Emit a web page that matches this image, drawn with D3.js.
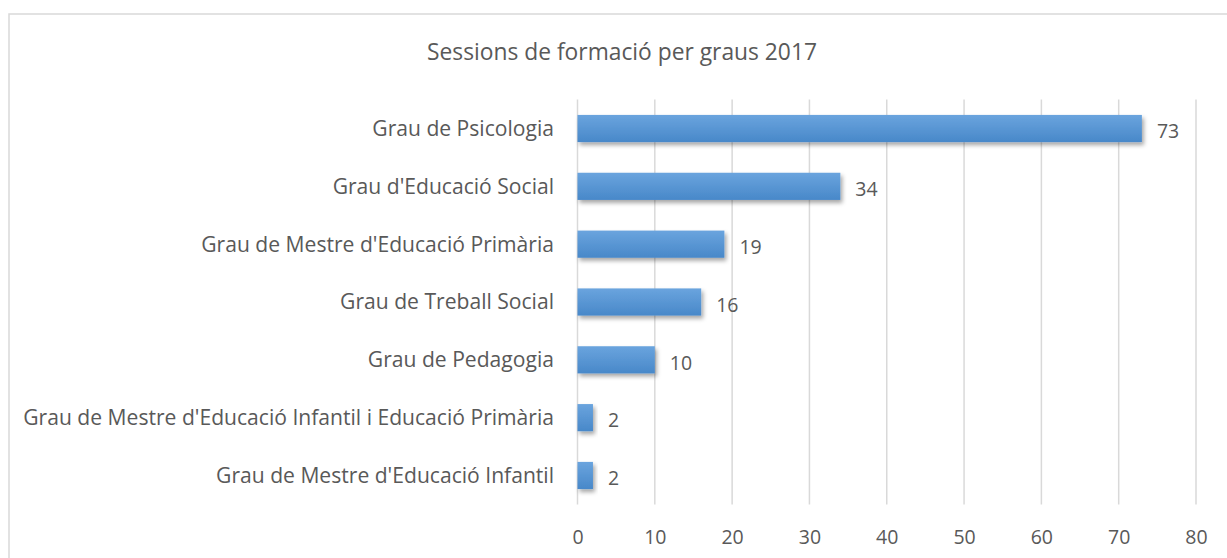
<!DOCTYPE html>
<html>
<head>
<meta charset="utf-8">
<script src="https://cdn.jsdelivr.net/npm/d3@7"></script>
<style>
  body { margin: 0; background: #fff; }
  text { font-family: "Open Sans", "Noto Sans", sans-serif; fill: #595959; }
</style>
</head>
<body>
<div id="chart"></div>
<script>
// Chart data
var title = "Sessions de formació per graus 2017";
var categories = [
  "Grau de Psicologia",
  "Grau d'Educació Social",
  "Grau de Mestre d'Educació Primària",
  "Grau de Treball Social",
  "Grau de Pedagogia",
  "Grau de Mestre d'Educació Infantil i Educació Primària",
  "Grau de Mestre d'Educació Infantil"
];
var values = [73, 34, 19, 16, 10, 2, 2];
var xTicks = [0, 10, 20, 30, 40, 50, 60, 70, 80];

var W = 1227, H = 558;
var plotLeft = 577.5, plotRight = 1196, plotTop = 99.6, plotBottom = 504.4;

var svg = d3.select("#chart").append("svg")
  .attr("width", W)
  .attr("height", H);

// shadow + gradient for bars
var defs = svg.append("defs");
var grad = defs.append("linearGradient")
  .attr("id", "barGrad")
  .attr("x1", 0).attr("y1", 0).attr("x2", 0).attr("y2", 1);
grad.append("stop").attr("offset", "0%").attr("stop-color", "#6aa4de");
grad.append("stop").attr("offset", "100%").attr("stop-color", "#4888c9");

var filt = defs.append("filter").attr("id", "shadow")
  .attr("x", "-20%").attr("y", "-20%").attr("width", "150%").attr("height", "170%");
filt.append("feDropShadow")
  .attr("dx", 2).attr("dy", 3).attr("stdDeviation", 2)
  .attr("flood-color", "#000").attr("flood-opacity", 0.35);

// outer chart border
svg.append("rect")
  .attr("x", 9).attr("y", 14)
  .attr("width", 1240).attr("height", 570)
  .attr("fill", "none")
  .attr("stroke", "#d9d9d9")
  .attr("stroke-width", 1.5);

var x = d3.scaleLinear().domain([0, 80]).range([plotLeft, plotRight]);
var y = d3.scaleBand().domain(categories).range([plotTop, plotBottom]).paddingInner(0.53).paddingOuter(0.265);

// gridlines
svg.append("g").selectAll("line")
  .data(xTicks)
  .enter().append("line")
  .attr("x1", function(d) { return x(d); })
  .attr("x2", function(d) { return x(d); })
  .attr("y1", plotTop)
  .attr("y2", plotBottom)
  .attr("stroke", "#d9d9d9")
  .attr("stroke-width", 1.5);

// x axis tick labels
var xAxis = d3.axisBottom(x).tickValues(xTicks).tickSize(0).tickPadding(0);
var gx = svg.append("g")
  .attr("transform", "translate(0," + plotBottom + ")")
  .call(xAxis);
gx.select(".domain").remove();
gx.selectAll("text")
  .attr("y", 33)
  .attr("dy", "0.35em")
  .style("font-size", "19.5px")
  .style("font-family", "'Open Sans', sans-serif")
  .attr("fill", "#595959");

// category labels
var yAxis = d3.axisLeft(y).tickSize(0).tickPadding(0);
var gy = svg.append("g")
  .attr("transform", "translate(554,0)")
  .call(yAxis);
gy.select(".domain").remove();
gy.selectAll("text")
  .attr("dy", "0.35em")
  .style("font-size", "21.1px")
  .style("font-family", "'Open Sans', sans-serif")
  .attr("fill", "#595959");

// bars
svg.append("g").selectAll("rect")
  .data(values)
  .enter().append("rect")
  .attr("x", x(0))
  .attr("y", function(d, i) { return y(categories[i]); })
  .attr("width", function(d) { return x(d) - x(0); })
  .attr("height", y.bandwidth())
  .attr("fill", "url(#barGrad)")
  .attr("filter", "url(#shadow)");

// value labels
svg.append("g").selectAll("text")
  .data(values)
  .enter().append("text")
  .attr("x", function(d) { return x(d) + 15; })
  .attr("y", function(d, i) { return y(categories[i]) + y.bandwidth() / 2 + 3; })
  .attr("dy", "0.35em")
  .style("font-size", "19.5px")
  .text(function(d) { return d; });

// title
svg.append("text")
  .attr("x", 622)
  .attr("y", 52)
  .attr("dy", "0.35em")
  .attr("text-anchor", "middle")
  .style("font-size", "22.8px")
  .text(title);
</script>
</body>
</html>
